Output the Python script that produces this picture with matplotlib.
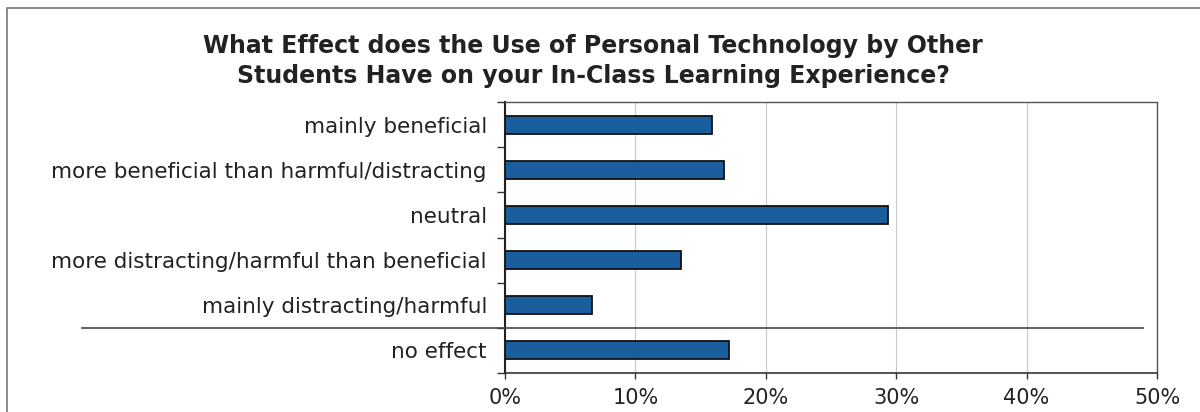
import matplotlib
matplotlib.use("Agg")
import matplotlib.pyplot as plt
from matplotlib.transforms import blended_transform_factory
from matplotlib.patches import Rectangle

title = "What Effect does the Use of Personal Technology by Other\nStudents Have on your In-Class Learning Experience?"
categories = [
    "mainly beneficial",
    "more beneficial than harmful/distracting",
    "neutral",
    "more distracting/harmful than beneficial",
    "mainly distracting/harmful",
    "no effect",
]
values = [15.9, 16.8, 29.4, 13.5, 6.7, 17.2]
xticks = [0, 10, 20, 30, 40, 50]
xticklabels = ["0%", "10%", "20%", "30%", "40%", "50%"]

plt.rcParams['font.family'] = ['DejaVu Sans']

W, H = 1200, 412
fig = plt.figure(figsize=(W / 100, H / 100), dpi=100)
fig.patch.set_facecolor("white")

# outer frame (cropped at right/bottom)
fig.add_artist(Rectangle((7 / W, -0.1), 1.2, 1 - 8 / H + 0.1, transform=fig.transFigure,
                         fill=False, edgecolor="#777777", linewidth=1.2))

ax = fig.add_axes([505 / W, 1 - 373 / H, (1157 - 505) / W, (373 - 102) / H])
pos = list(range(len(categories)))
ax.barh(pos, values, height=0.4, color="#1a5e9e", edgecolor="#111111", linewidth=1.3, zorder=3)
ax.set_ylim(len(categories) - 0.5, -0.5)
ax.set_xlim(0, 50)
ax.set_xticks(xticks)
ax.set_xticklabels(xticklabels, fontsize=15, color="#222222")
ax.set_yticks(pos)
ax.set_yticklabels(categories, fontsize=15.5, color="#222222")
ax.set_yticks([p + 0.5 for p in pos[:-1]] + [-0.5, len(categories) - 0.5], minor=True)
ax.tick_params(axis="y", which="major", length=0, pad=13)
ax.tick_params(axis="y", which="minor", length=6, width=1, color="#333333")
ax.tick_params(axis="x", which="major", length=4, width=1, color="#333333", pad=7)
ax.grid(axis="x", color="#c8c8d0", linewidth=0.8, zorder=0)
for s in ax.spines.values():
    s.set_color("#555555")
    s.set_linewidth(1.0)
ax.spines["left"].set_color("#222222")
ax.spines["left"].set_linewidth(1.5)
ax.spines["bottom"].set_color("#333333")
ax.spines["bottom"].set_linewidth(1.2)

# separator line between rated categories and "no effect"
tr = blended_transform_factory(fig.transFigure, ax.transData)
ax.plot([82 / W, 1143 / W], [len(categories) - 1.5] * 2, transform=tr, color="#444444",
        linewidth=1.2, clip_on=False, zorder=4)

fig.text(593 / W, 1 - 61 / H, title, ha="center", va="center", fontsize=17,
         fontweight="bold", color="#222222", linespacing=1.35, multialignment="center")

fig.savefig("out.png", dpi=100, facecolor="white")
